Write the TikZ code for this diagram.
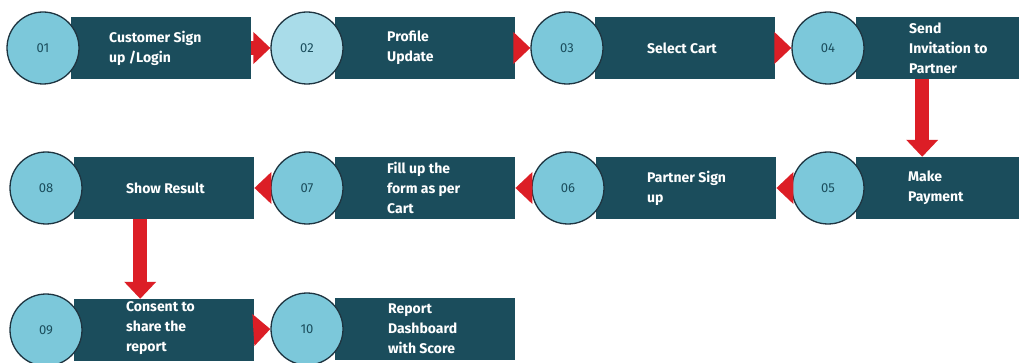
\documentclass[tikz,border=0pt]{standalone}
\usepackage{fontspec}
\setsansfont{Fira Sans}
\usepackage{tikz}
\usetikzlibrary{arrows.meta,positioning,backgrounds}
\usepackage{xcolor}
\definecolor{BarTeal}{HTML}{1B4D5C}
\definecolor{StepBlue}{HTML}{7CC8DA}
\definecolor{StepBlueLight}{HTML}{A9DCE9}
\definecolor{StepEdge}{HTML}{1E3440}
\definecolor{FlowRed}{HTML}{DC1E26}
\tikzset{
  stepnum/.style={circle,draw=StepEdge,line width=1.3pt,fill=StepBlue,minimum size=72pt,inner sep=0pt,text=BarTeal,font=\sffamily\fontsize{13}{15}\selectfont},
  stepbar/.style={fill=BarTeal,minimum width=180pt,minimum height=62pt,inner sep=0pt},
  steptext/.style={text=white,align=left,inner sep=0pt,font=\sffamily\bfseries\fontsize{14}{20}\selectfont},
  flowarrow/.style={-{Triangle[length=17pt,width=31pt]},line width=14pt,draw=FlowRed}
}

\begin{document}
\begin{tikzpicture}[x=1pt,y=-1pt]
\useasboundingbox (0,0) rectangle (1019,363);
% numbered steps
\node[stepnum] (c01) at (43,48) {01};
\node[stepnum,fill=StepBlueLight] (c02) at (307,48) {02};
\node[stepnum] (c03) at (567,48) {03};
\node[stepnum] (c04) at (828,48) {04};
\node[stepnum] (c05) at (828,188) {05};
\node[stepnum] (c06) at (568,188) {06};
\node[stepnum] (c07) at (307,188) {07};
\node[stepnum] (c08) at (46,188) {08};
\node[stepnum] (c09) at (46,330) {09};
\node[stepnum] (c10) at (307,329) {10};
% bars behind the circles
\begin{scope}[on background layer]
  \fill[white] (0,0) rectangle (1019,363);
  \foreach \s in {01,02,03,04,05,06,07,08,09,10}
    \node[stepbar,right=28pt of c\s.center] (r\s) {};
\end{scope}
% step labels
\node[steptext,right=66pt of c01.center] (t01) {Customer Sign\\up /Login};
\node[steptext,right=80pt of c02.center] (t02) {Profile\\Update};
\node[steptext,right=80pt of c03.center] (t03) {Select Cart};
\node[steptext,right=81pt of c04.center] (t04) {Send\\Invitation to\\Partner};
\node[steptext,right=80pt of c05.center] (t05) {Make\\Payment};
\node[steptext,right=79pt of c06.center] (t06) {Partner Sign\\up};
\node[steptext,right=80pt of c07.center] (t07) {Fill up the\\form as per\\Cart};
\node[steptext,right=80pt of c08.center] (t08) {Show Result};
\node[steptext,right=80pt of c09.center,yshift=2pt] (t09) {Consent to\\share the\\report};
\node[steptext,right=81pt of c10.center] (t10) {Report\\Dashboard\\with Score};
% flow
\draw[flowarrow] (r01.east) -- (c02.west);
\draw[flowarrow] (r02.east) -- (c03.west);
\draw[flowarrow] (r03.east) -- (c04.west);
\draw[flowarrow] ([xshift=-24pt]r04.south) -- ([xshift=-24pt]r05.north);
\draw[flowarrow] (c05.west) -- (r06.east);
\draw[flowarrow] (c06.west) -- (r07.east);
\draw[flowarrow] (c07.west) -- (r08.east);
\draw[flowarrow] ([xshift=-24pt]r08.south) -- ([xshift=-24pt]r09.north);
\draw[flowarrow] (r09.east) -- (c10.west);
\end{tikzpicture}
\end{document}
